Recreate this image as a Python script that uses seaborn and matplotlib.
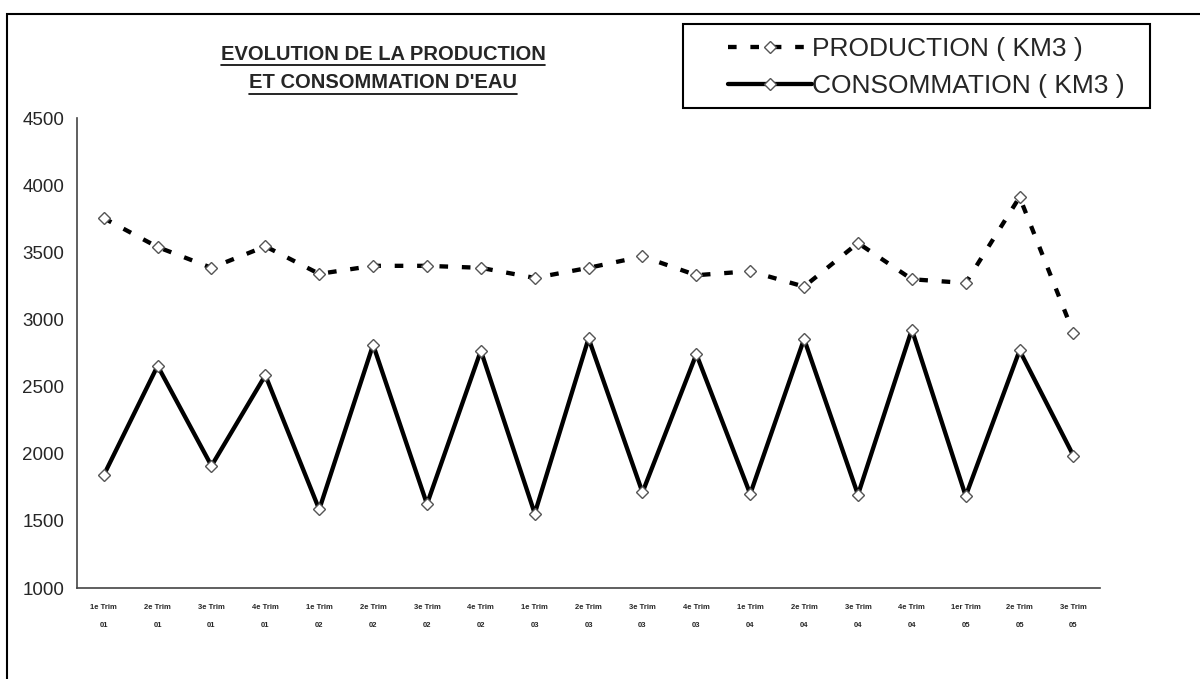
import numpy as np
import pandas as pd
import matplotlib
matplotlib.use("Agg")
import matplotlib.pyplot as plt
from matplotlib.lines import Line2D
from matplotlib.patches import Rectangle
import seaborn as sns

# trimestres 2001 -> 2005
trimestres = ["1e Trim", "2e Trim", "3e Trim", "4e Trim"] * 4 + ["1er Trim", "2e Trim", "3e Trim"]
annees = ["01"] * 4 + ["02"] * 4 + ["03"] * 4 + ["04"] * 4 + ["05"] * 3
production = [3755, 3540, 3385, 3545, 3340, 3400, 3400, 3385, 3310,
              3385, 3470, 3330, 3360, 3245, 3570, 3300, 3272, 3912, 2900]
consommation = [1840, 2655, 1910, 2585, 1585, 2812, 1625, 2768, 1555,
                2860, 1712, 2742, 1700, 2855, 1695, 2925, 1685, 2770, 1985]

labels_x = [f"{t}\n{a}" for t, a in zip(trimestres, annees)]
n = len(production)

df = pd.DataFrame({
    "idx": list(range(n)) * 2,
    "valeur": production + consommation,
    "serie": ["PRODUCTION ( KM3 )"] * n + ["CONSOMMATION ( KM3 )"] * n,
})

sns.set_style("white")
plt.rcParams["font.family"] = ["Liberation Sans", "DejaVu Sans"]

fig = plt.figure(figsize=(12, 6.79), dpi=100)
ax = fig.add_axes([0.064, 0.134, 0.853, 0.692])

sns.lineplot(data=df, x="idx", y="valeur", hue="serie", style="serie",
             palette=["black", "black"],
             dashes={"PRODUCTION ( KM3 )": (2, 3.2), "CONSOMMATION ( KM3 )": ""},
             markers={"PRODUCTION ( KM3 )": "D", "CONSOMMATION ( KM3 )": "D"},
             linewidth=3.1, ax=ax, legend=False)

for line in ax.lines:
    line.set_markersize(6.5)
    line.set_markerfacecolor("white")
    line.set_markeredgecolor("#555555")
    line.set_markeredgewidth(1.0)

ax.set_xlim(-0.5, n - 0.5)
ax.set_ylim(1000, 4500)
ax.set_yticks(np.arange(1000, 4501, 500))
ax.set_yticklabels([str(v) for v in range(1000, 4501, 500)], fontsize=13.5)
ax.set_xticks(range(n))
ax.set_xticklabels(labels_x, fontsize=5.5, fontweight="bold", linespacing=3.3)
ax.set_xticks(np.arange(-0.5, n, 1), minor=True)
ax.tick_params(axis="x", which="major", length=0, pad=11.5)
ax.tick_params(axis="x", which="minor", length=4, width=1, color="black", direction="out")
ax.tick_params(axis="y", length=5, width=1, color="black", direction="out", pad=4)
ax.set_xlabel("")
ax.set_ylabel("")
for s in ["top", "right"]:
    ax.spines[s].set_visible(False)
for s in ["left", "bottom"]:
    ax.spines[s].set_color("#444444")
    ax.spines[s].set_linewidth(1.2)

# titre souligne
titre = ["EVOLUTION DE LA PRODUCTION", "ET CONSOMMATION D'EAU"]
fig.canvas.draw()
rend = fig.canvas.get_renderer()
for i, t in enumerate(titre):
    y = 1 - (54 + 29 * i) / 679
    txt = fig.text(383 / 1200, y, t, ha="center", va="center", fontsize=14.5,
                   fontweight="bold")
    bb = txt.get_window_extent(renderer=rend)
    fig.add_artist(Line2D([bb.x0 / 1200, bb.x1 / 1200], [(bb.y0 - 1) / 679] * 2,
                          color="black", lw=1.2))

# legende (cadre dessine a part)
handles = [
    Line2D([], [], color="black", lw=3.1, dashes=(2, 3.2), marker="D", markersize=6.5,
           markerfacecolor="white", markeredgecolor="#555555"),
    Line2D([], [], color="black", lw=3.1, marker="D", markersize=6.5,
           markerfacecolor="white", markeredgecolor="#555555"),
]
leg = fig.legend(handles, ["PRODUCTION ( KM3 )", "CONSOMMATION ( KM3 )"],
                 loc="upper left", bbox_to_anchor=(728 / 1200, 1 - 37 / 679),
                 fontsize=19, frameon=False, handlelength=3.2,
                 handletextpad=0.0, borderpad=0, labelspacing=0.5, borderaxespad=0)
fig.add_artist(Rectangle((683 / 1200, 1 - 108 / 679), 467 / 1200, 84 / 679,
                         transform=fig.transFigure, fill=False, edgecolor="black", lw=1.5))

# cadre du graphique
fig.add_artist(Rectangle((7 / 1200, -0.1), 1.2, 1 - 14 / 679 + 0.1, transform=fig.transFigure,
                         fill=False, edgecolor="black", lw=1.5))

fig.savefig("out.png", dpi=100)
